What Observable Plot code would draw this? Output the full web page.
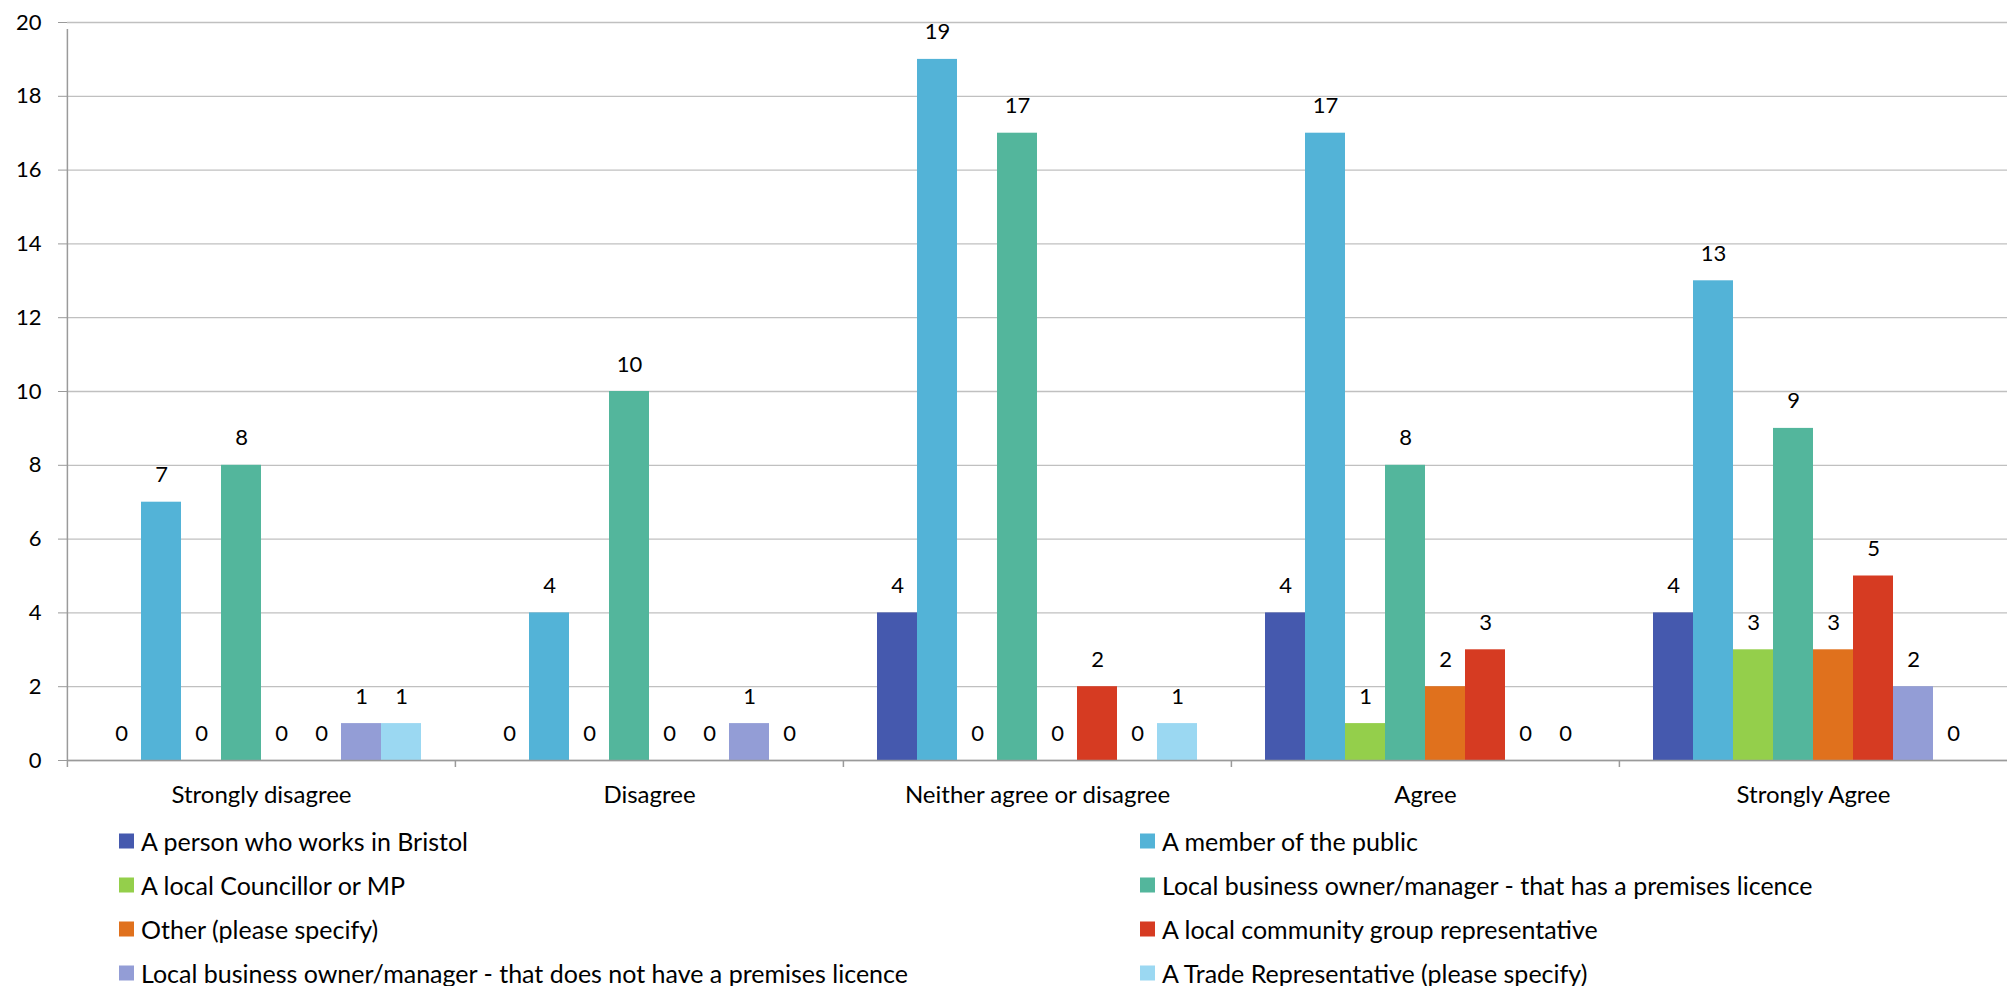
<!DOCTYPE html>
<html><head><meta charset="utf-8">
<script src="https://cdn.jsdelivr.net/npm/d3@7"></script>
<script src="https://cdn.jsdelivr.net/npm/@observablehq/plot@0.6"></script>
<style>
body{margin:0;background:#fff;font-family:Lato, sans-serif;}
#legend{position:relative;height:171px;width:2007px;}
.item{position:absolute;display:flex;align-items:center;transform:translateY(-50%);white-space:nowrap;font-size:25px;color:#000;line-height:1}
.sw{width:15px;height:15px;margin-right:7px;flex:none}
</style></head><body>
<div id="chart"></div><div id="legend"></div>
<script>
const categories = ["Strongly disagree", "Disagree", "Neither agree or disagree", "Agree", "Strongly Agree"];
const series = [
  "A person who works in Bristol",
  "A member of the public",
  "A local Councillor or MP",
  "Local business owner/manager - that has a premises licence",
  "Other (please specify)",
  "A local community group representative",
  "Local business owner/manager - that does not have a premises licence",
  "A Trade Representative (please specify)"
];
const colors = ["#4559AE", "#53B3D7", "#94CF4B", "#53B69C", "#E0711D", "#D63B22", "#939DD6", "#9BD8F2"];
const stronglyDisagree = [0, 7, 0, 8, 0, 0, 1, 1];
const disagree = [0, 4, 0, 10, 0, 0, 1, 0];
const neither = [4, 19, 0, 17, 0, 2, 0, 1];
const agree = [4, 17, 1, 8, 2, 3, 0, 0];
const stronglyAgree = [4, 13, 3, 9, 3, 5, 2, 0];
const yTicks = [0, 2, 4, 6, 8, 10, 12, 14, 16, 18, 20];

const valuesByCat = [stronglyDisagree, disagree, neither, agree, stronglyAgree];
const data = [];
categories.forEach((c, ci) => series.forEach((s, si) => data.push({cat: c, series: s, value: valuesByCat[ci][si]})));

const W = 2007, H = 815, mL = 66, mR = 0, mT = 22, mB = 55;
const facetW = (W - mL - mR) / categories.length;
const font = "Lato, sans-serif";
const fs = 22;

const chart = Plot.plot({
  width: W, height: H,
  marginLeft: mL, marginRight: mR, marginTop: mT, marginBottom: mB,
  style: {fontFamily: font, fontSize: fs + "px", color: "#000", background: "#fff"},
  fx: {domain: categories, padding: 0, label: null},
  x: {domain: series, paddingInner: 0, paddingOuter: 0.77, axis: null},
  y: {domain: [0, 20], label: null},
  color: {domain: series, range: colors},
  marks: [
    Plot.gridY(yTicks, {stroke: "#c0c0c0", strokeOpacity: 1, strokeWidth: 1.3}),
    Plot.barY(data, {fx: "cat", x: "series", y: "value", fill: "series"}),
    Plot.ruleY([0], {stroke: "#9a9a9a", strokeWidth: 1.5}),
    Plot.ruleX(categories, {fx: d => d, x: null, y1: 0, y2: 0, insetBottom: -7, dx: -facetW / 2, stroke: "#9a9a9a", strokeWidth: 1.5}),
    Plot.ruleX([categories[0]], {fx: d => d, x: null, y1: 0, y2: 20, insetBottom: -7, dx: -facetW / 2, stroke: "#9a9a9a", strokeWidth: 1.5}),
    Plot.text(data, {fx: "cat", x: "series", y: "value", text: d => String(d.value), dy: -27, fontSize: fs, fill: "#000"}),
    Plot.axisY({ticks: yTicks, tickSize: 9, tickPadding: 17, stroke: "#9a9a9a", fontSize: fs, label: null, tickFormat: d => String(d)}),
    Plot.axisFx({anchor: "bottom", tickSize: 0, tickPadding: 25, fontSize: 24, label: null})
  ]
});
document.getElementById("chart").appendChild(chart);

const legend = document.getElementById("legend");
const colLeft = [119, 1140];
const rowCenter = [25.5, 69.5, 113.5, 158];
series.forEach((s, i) => {
  const item = document.createElement("div");
  item.className = "item";
  item.style.left = colLeft[i % 2] + "px";
  item.style.top = rowCenter[Math.floor(i / 2)] + "px";
  const sw = document.createElement("span");
  sw.className = "sw";
  sw.style.background = colors[i];
  const t = document.createElement("span");
  t.textContent = s;
  item.appendChild(sw); item.appendChild(t);
  legend.appendChild(item);
});
</script>
</body></html>
